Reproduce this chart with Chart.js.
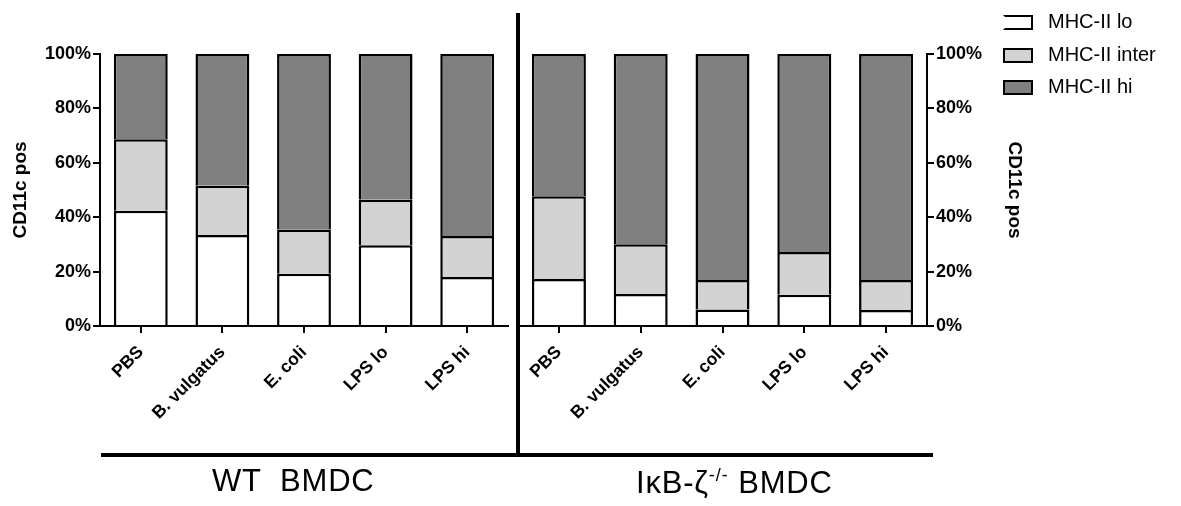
<!DOCTYPE html>
<html>
<head>
<meta charset="utf-8">
<script src="https://cdn.jsdelivr.net/npm/chart.js@4"></script>
<style>
  html, body { margin: 0; padding: 0; background: #fff; }
  body { width: 1181px; height: 506px; position: relative; overflow: hidden; font-family: 'Liberation Sans', Arial, sans-serif; }
  .panel { position: absolute; top: 0; height: 506px; }
  .rule { position: absolute; background: #000; }
  .group { position: absolute; font-size: 31px; white-space: pre; color: #000; line-height: 30px; letter-spacing: 0.8px; }
  .group sup { font-size: 18px; vertical-align: 12px; line-height: 0; letter-spacing: 1px; }
  .legend { position: absolute; left: 1003px; top: 0; font-size: 20px; color: #000; }
  .legend .row { position: absolute; left: 0; height: 20px; white-space: nowrap; }
  .legend .box { position: absolute; left: 0; top: 3px; width: 26px; height: 11px; border: 2px solid #000; }
  .legend .lab { position: absolute; left: 45px; top: -3px; line-height: 24px; }
</style>
</head>
<body>
<div class="panel" style="left:0;width:520px"><canvas id="chart-wt"></canvas></div>
<div class="panel" style="left:500px;width:530px"><canvas id="chart-ko"></canvas></div>

<div class="rule" style="left:516px;top:13px;width:4px;height:444px"></div>
<div class="rule" style="left:101px;top:453px;width:832px;height:4px"></div>
<div class="group" style="left:212px;top:466px">WT  BMDC</div>
<div class="group" style="left:636px;top:468px">IκB-ζ<sup>-/-</sup> BMDC</div>

<div class="legend" id="legend"></div>

<script>
const categories = ['PBS', 'B. vulgatus', 'E. coli', 'LPS lo', 'LPS hi'];
const seriesNames = ['MHC-II lo', 'MHC-II inter', 'MHC-II hi'];
const yTicks = [0, 20, 40, 60, 80, 100];

// WT BMDC, % of CD11c+ cells in each MHC-II band
const wtLo = [42.4, 33.5, 19.2, 29.7, 18.0];
const wtInter = [26.3, 18.1, 16.3, 16.7, 15.1];
const wtHi = [31.3, 48.4, 64.5, 53.6, 66.9];

// IkB-zeta -/- BMDC
const koLo = [17.3, 11.8, 6.1, 11.5, 5.9];
const koInter = [30.4, 18.3, 10.8, 15.7, 11.0];
const koHi = [52.3, 69.9, 83.1, 72.8, 83.1];

const FILLS = ['#ffffff', '#d3d3d3', '#808080'];
const TICK_FONT = { family: "'Liberation Sans', Arial, sans-serif", size: 18, weight: 'bold' };
const TITLE_FONT = { family: "'Liberation Sans', Arial, sans-serif", size: 19, weight: 'bold' };
const X_FONT = { family: "'Liberation Sans', Arial, sans-serif", size: 17.5, weight: 'bold' };

function datasets(lo, inter, hi) {
  return [lo, inter, hi].map((data, i) => ({
    label: seriesNames[i], data,
    backgroundColor: FILLS[i], borderColor: '#000', borderWidth: 2.5, borderSkipped: 'start',
    barPercentage: 0.66, categoryPercentage: 1,
  }));
}

function makeChart(id, lo, inter, hi, side) {
  const isLeft = side === 'left';
  return new Chart(document.getElementById(id), {
    type: 'bar',
    data: { labels: categories, datasets: datasets(lo, inter, hi) },
    options: {
      responsive: true, maintainAspectRatio: false, animation: false,
      layout: { padding: isLeft ? { left: 5, right: 12, top: 54, bottom: 0 } : { left: 18, right: 0, top: 54, bottom: 0 } },
      plugins: { legend: { display: false }, tooltip: { enabled: false } },
      scales: {
        x: {
          stacked: true,
          grid: { display: true, offset: false, drawOnChartArea: false, tickLength: 7, color: '#000', lineWidth: 2 },
          border: { display: true, color: '#000', width: 2 },
          ticks: { color: '#000', font: X_FONT, minRotation: 45, maxRotation: 45, autoSkip: false, padding: 9 },
          afterFit: (s) => { s.height = 180; },
        },
        y: {
          stacked: true, position: side, min: 0, max: 100,
          afterBuildTicks: (s) => { s.ticks = yTicks.map(v => ({ value: v })); },
          grid: { display: true, drawOnChartArea: false, tickLength: 7, color: '#000', lineWidth: 2 },
          border: { display: true, color: '#000', width: 2 },
          ticks: { color: '#000', font: TICK_FONT, padding: 2, callback: (v) => v + '%' },
          title: { display: true, text: 'CD11c pos', color: '#000', font: TITLE_FONT, padding: { top: 4, bottom: 4 } },
          afterFit: (s) => { s.width = isLeft ? 95 : 103; },
        },
      },
    },
  });
}

makeChart('chart-wt', wtLo, wtInter, wtHi, 'left');
makeChart('chart-ko', koLo, koInter, koHi, 'right');

// legend
const legend = document.getElementById('legend');
const rowTops = [12, 45, 77];
seriesNames.forEach((name, i) => {
  const row = document.createElement('div');
  row.className = 'row';
  row.style.top = rowTops[i] + 'px';
  const box = document.createElement('div');
  box.className = 'box';
  box.style.background = FILLS[i];
  if (i === 0) box.style.borderLeftColor = 'transparent';
  const lab = document.createElement('div');
  lab.className = 'lab';
  lab.textContent = name;
  row.appendChild(box);
  row.appendChild(lab);
  legend.appendChild(row);
});
</script>
</body>
</html>
